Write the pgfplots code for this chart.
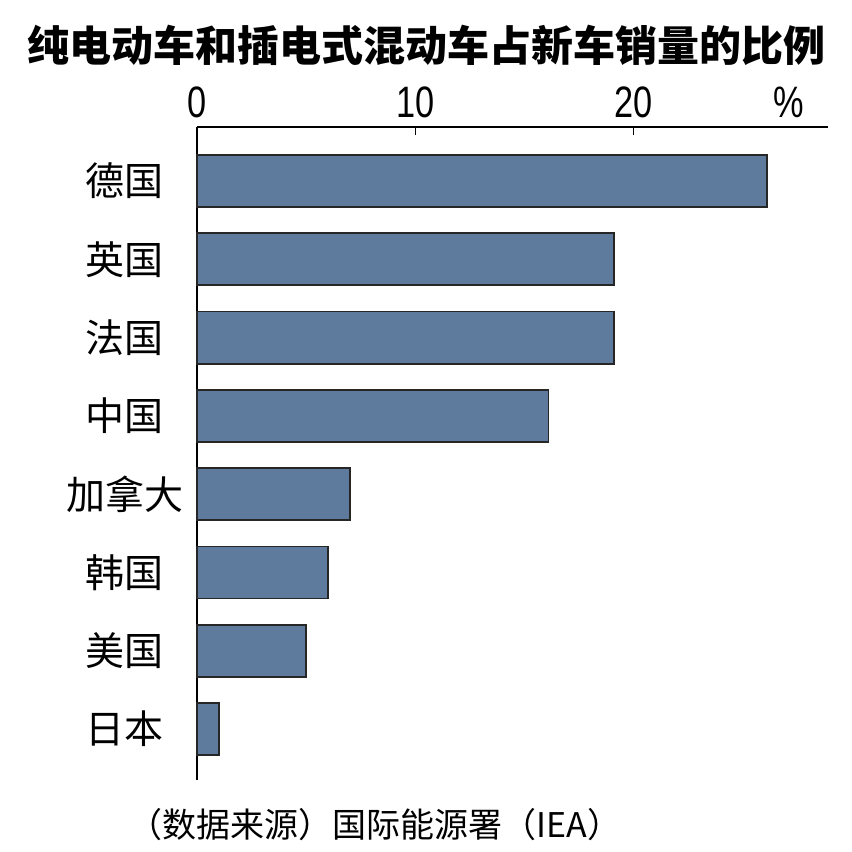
\documentclass[border=0pt]{standalone}
\usepackage{pgfplots}
\pgfplotsset{compat=1.18}
\usepackage{fontspec}
\newfontfamily\cjk{Noto Sans CJK SC}
\newfontfamily\tickfont[FakeStretch=0.78]{Liberation Sans}
\definecolor{barblue}{RGB}{94,122,156}
\begin{document}
\begin{tikzpicture}
\useasboundingbox (0,0) rectangle (426bp,426bp);
\begin{axis}[
  at={(98.5bp,362.5bp)}, anchor=north west,
  scale only axis, width=315.5bp, height=326.5bp,
  xbar, bar width=0.665,
  xmin=0, xmax=28.9, ymin=-0.69, ymax=7.65, y dir=reverse,
  axis x line*=top, axis y line*=left,
  axis line style={line width=1bp, black},
  xtick={0,10,20}, xticklabels={0,10,20},
  xticklabel style={font=\tickfont\fontsize{22bp}{24bp}\selectfont, anchor=south, inner sep=0pt, yshift=4.5bp},
  tick align=inside, major tick length=4bp,
  xtick style={line width=0.75bp, black},
  ytick={0,...,7},
  yticklabels={德国,英国,法国,中国,加拿大,韩国,美国,日本},
  yticklabel style={font=\cjk\fontsize{19.5bp}{22bp}\selectfont, anchor=center, inner sep=0pt, xshift=-36bp},
  ytick style={draw=none},
  clip=false,
]
\addplot[fill=barblue, draw=black!85, line width=0.9bp] coordinates {
  (26.1,0) (19.1,1) (19.1,2) (16.1,3) (7.0,4) (6.0,5) (5.0,6) (1.0,7)};
\node[font=\tickfont\fontsize{22bp}{24bp}\selectfont, anchor=south, inner sep=0pt, yshift=4.5bp] at (axis cs:27.1,-0.69) {\%};
\end{axis}
\node[font=\cjk\bfseries\fontsize{21bp}{26bp}\selectfont] at (213bp,403.5bp) {纯电动车和插电式混动车占新车销量的比例};
\node[font=\cjk\fontsize{17bp}{20bp}\selectfont, anchor=west, inner sep=0pt] at (64bp,13.5bp) {（数据来源）国际能源署（IEA）};
\end{tikzpicture}
\end{document}
